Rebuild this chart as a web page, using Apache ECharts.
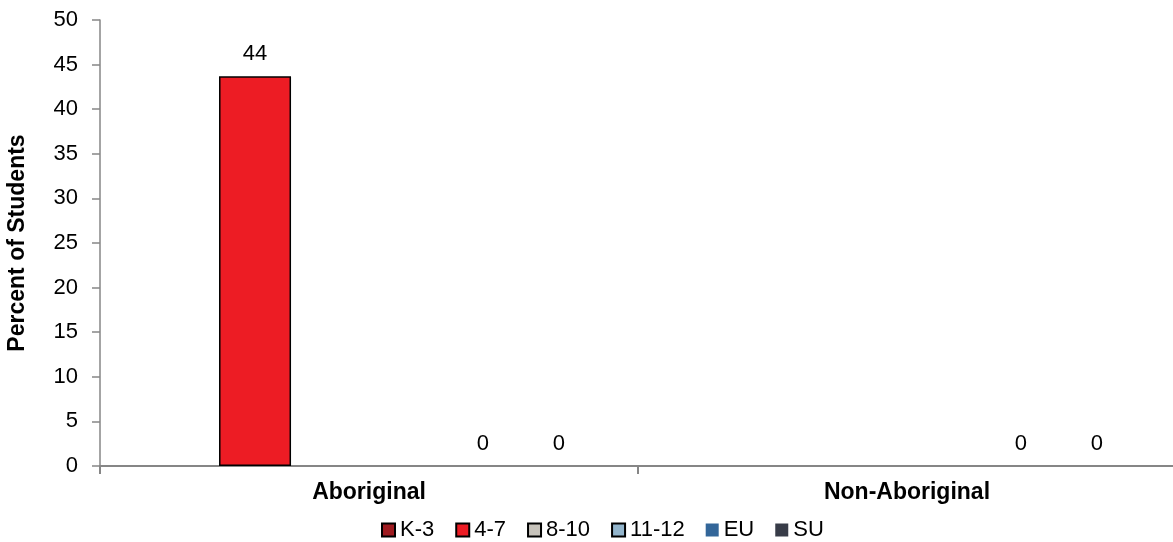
<!DOCTYPE html>
<html>
<head>
<meta charset="utf-8">
<script src="https://cdn.jsdelivr.net/npm/echarts@6/dist/echarts.min.js"></script>
<style>html,body{margin:0;padding:0;background:#fff;}#c{width:1173px;height:542px;}</style>
</head>
<body>
<div id="c"></div>
<script>
const categories = ['Aboriginal', 'Non-Aboriginal'];
const seriesNames = ['K-3', '4-7', '8-10', '11-12', 'EU', 'SU'];
const k3 = [null, null];
const g47 = [43.7, null];
const g810 = [null, null];
const g1112 = [null, null];
const eu = [0, 0];
const su = [0, 0];
const yTicks = [0, 5, 10, 15, 20, 25, 30, 35, 40, 45, 50];

const colors = ['#9E1B20', '#ED1C24', '#C7C3BB', '#93B5CC', '#336699', '#383C48'];
const bordered = [true, true, true, true, false, false];
const values = [k3, g47, g810, g1112, eu, su];

const FONT = '"Liberation Sans", Arial, sans-serif';
const chart = echarts.init(document.getElementById('c'));
chart.setOption({
  animation: false,
  textStyle: { fontFamily: FONT },
  grid: { left: 100, right: -3, top: 20, bottom: 76, outerBoundsMode: 'none', containLabel: false },
  legend: {
    left: 381, top: 519, padding: 0,
    itemWidth: 13, itemHeight: 13, itemGap: 21, icon: 'rect',
    textStyle: { fontSize: 22, color: '#000', fontFamily: FONT },
    data: seriesNames
  },
  xAxis: {
    type: 'category',
    data: categories,
    axisLine: { lineStyle: { color: '#868686', width: 2 } },
    axisTick: { show: true, length: 8, lineStyle: { color: '#868686', width: 2 } },
    axisLabel: { fontSize: 23, fontWeight: 'bold', color: '#000', margin: 15, fontFamily: FONT }
  },
  yAxis: {
    type: 'value',
    min: yTicks[0], max: yTicks[yTicks.length - 1], interval: 5,
    name: 'Percent of Students',
    nameLocation: 'middle', nameGap: 71,
    nameTextStyle: { fontSize: 23, fontWeight: 'bold', color: '#000', fontFamily: FONT },
    axisLine: { show: true, lineStyle: { color: '#868686', width: 1.5 } },
    axisTick: { show: true, length: 8, lineStyle: { color: '#868686', width: 1.5 } },
    axisLabel: { fontSize: 22, color: '#000', margin: 22, fontFamily: FONT },
    splitLine: { show: false }
  },
  series: seriesNames.map((name, i) => ({
    name: name,
    type: 'bar',
    data: values[i],
    barCategoryGap: '16%',
    barGap: '5.5%',
    itemStyle: bordered[i]
      ? { color: colors[i], borderColor: '#000', borderWidth: 1.5 }
      : { color: colors[i] },
    label: {
      show: true, position: 'top', distance: 11,
      fontSize: 22, color: '#000', fontFamily: FONT,
      formatter: p => (p.value === null || p.value === undefined) ? '' : String(Math.round(p.value))
    }
  }))
});
</script>
</body>
</html>
